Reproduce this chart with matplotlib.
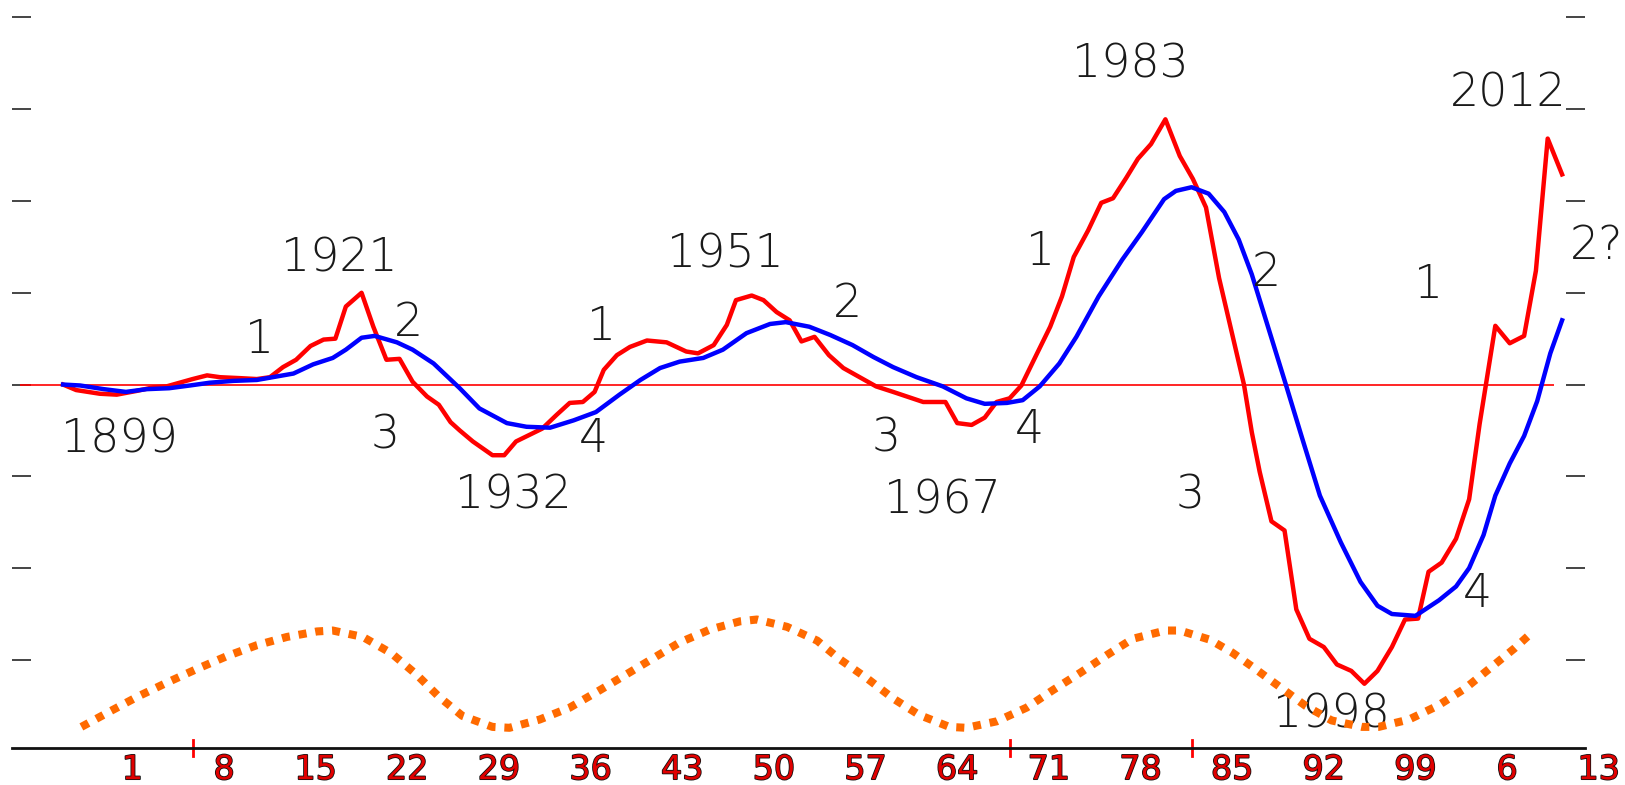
import matplotlib
matplotlib.use("Agg")
import matplotlib.pyplot as plt
import matplotlib.patheffects as pe
from matplotlib.transforms import blended_transform_factory

# red: raw series, blue: smoothed, orange: cycle guide
red_years = [1895.7, 1896.7, 1898.5, 1899.8, 1901.3, 1902.6, 1903.6, 1904.6, 1905.6, 1906.7,
             1907.7, 1909.2, 1910.5, 1911.5, 1912.5, 1913.5, 1914.6, 1915.6, 1916.5, 1917.3,
             1918.5, 1919.4, 1920.4, 1921.4, 1922.4, 1923.5, 1924.4, 1925.3, 1926.0, 1927.0,
             1928.5, 1929.4, 1930.3, 1932.3, 1933.4, 1934.4, 1935.4, 1936.3, 1937.0, 1938.0,
             1939.0, 1940.3, 1941.8, 1943.3, 1944.2, 1945.4, 1946.4, 1947.1, 1948.3, 1949.2,
             1950.2, 1951.2, 1952.1, 1953.1, 1954.2, 1955.3, 1956.3, 1957.8, 1959.1, 1961.4,
             1963.1, 1964.0, 1965.1, 1966.1, 1967.0, 1968.0, 1968.9, 1970.1, 1971.1, 1972.0,
             1972.9, 1974.0, 1975.0, 1975.9, 1976.9, 1977.8, 1978.8, 1979.9, 1981.0, 1982.0,
             1983.0, 1984.0, 1985.0, 1985.9, 1986.5, 1987.1, 1988.0, 1989.0, 1989.9, 1990.9,
             1992.0, 1993.0, 1994.1, 1995.1, 1996.1, 1997.2, 1998.2, 1999.2, 2000.0, 2001.0,
             2002.1, 2003.1, 2003.9, 2005.1, 2006.2, 2007.3, 2008.2, 2009.1, 2010.2]
red_values = [0.00, -0.06, -0.10, -0.11, -0.07, -0.03, -0.02, 0.02, 0.06, 0.10,
              0.08, 0.07, 0.06, 0.08, 0.19, 0.27, 0.42, 0.49, 0.50, 0.85,
              1.00, 0.63, 0.27, 0.28, 0.03, -0.13, -0.22, -0.41, -0.50, -0.62,
              -0.77, -0.77, -0.62, -0.48, -0.33, -0.20, -0.19, -0.08, 0.16, 0.32,
              0.41, 0.48, 0.46, 0.36, 0.34, 0.43, 0.65, 0.92, 0.97, 0.92,
              0.79, 0.70, 0.47, 0.52, 0.32, 0.18, 0.10, -0.02, -0.08, -0.19,
              -0.19, -0.42, -0.44, -0.36, -0.19, -0.15, -0.01, 0.34, 0.63, 0.96,
              1.39, 1.68, 1.98, 2.03, 2.25, 2.46, 2.62, 2.89, 2.49, 2.24,
              1.93, 1.16, 0.55, 0.00, -0.52, -0.95, -1.49, -1.59, -2.45, -2.77,
              -2.86, -3.05, -3.12, -3.26, -3.12, -2.86, -2.56, -2.55, -2.04, -1.94,
              -1.68, -1.25, -0.43, 0.64, 0.45, 0.53, 1.24, 2.68, 2.29]

blue_years = [1895.7, 1897.0, 1898.8, 1900.5, 1902.1, 1903.8, 1905.4, 1906.9, 1908.7, 1910.5,
              1911.7, 1913.3, 1914.8, 1916.3, 1917.3, 1918.5, 1919.5, 1921.2, 1922.4, 1924.0,
              1926.0, 1927.5, 1929.6, 1931.1, 1932.9, 1934.7, 1936.4, 1938.2, 1939.8, 1941.3,
              1942.8, 1944.6, 1946.1, 1947.9, 1949.7, 1950.9, 1952.7, 1954.3, 1956.0, 1957.6,
              1959.1, 1960.9, 1962.9, 1964.7, 1966.1, 1967.8, 1969.0, 1970.3, 1971.8, 1973.1,
              1974.8, 1976.6, 1978.1, 1979.8, 1980.7, 1981.9, 1983.2, 1984.4, 1985.5, 1986.5,
              1987.8, 1989.1, 1990.4, 1991.7, 1993.3, 1994.8, 1996.1, 1997.2, 1999.0, 2000.8,
              2002.1, 2003.1, 2004.2, 2005.1, 2006.2, 2007.3, 2008.3, 2009.3, 2010.2]
blue_values = [0.00, -0.01, -0.05, -0.08, -0.05, -0.04, -0.01, 0.02, 0.04, 0.05,
               0.08, 0.12, 0.22, 0.29, 0.38, 0.51, 0.53, 0.46, 0.38, 0.23,
               -0.04, -0.26, -0.42, -0.46, -0.47, -0.39, -0.30, -0.11, 0.05, 0.18,
               0.25, 0.29, 0.38, 0.56, 0.66, 0.68, 0.63, 0.54, 0.43, 0.30,
               0.19, 0.08, -0.02, -0.15, -0.21, -0.20, -0.17, -0.02, 0.23, 0.52,
               0.96, 1.36, 1.66, 2.02, 2.11, 2.15, 2.08, 1.88, 1.58, 1.20,
               0.60, 0.00, -0.61, -1.21, -1.72, -2.15, -2.41, -2.50, -2.52, -2.35,
               -2.20, -2.00, -1.64, -1.21, -0.86, -0.56, -0.18, 0.34, 0.70]

cycle_years = [1897.1, 1899.3, 1901.4, 1903.6, 1905.9, 1908.2, 1910.5, 1912.8, 1915.1, 1916.3,
               1918.6, 1920.8, 1922.7, 1924.4, 1926.2, 1928.5, 1929.8, 1932.1, 1934.4, 1936.7,
               1938.7, 1940.8, 1942.8, 1945.1, 1947.4, 1948.7, 1951.0, 1953.3, 1955.0, 1957.1,
               1959.1, 1961.1, 1963.4, 1964.7, 1967.0, 1969.3, 1971.3, 1973.4, 1975.4, 1977.4,
               1979.9, 1981.0, 1983.3, 1985.0, 1986.5, 1988.5, 1990.6, 1992.6, 1994.9, 1996.2,
               1998.5, 2000.7, 2002.8, 2004.7, 2006.6, 2007.6]
cycle_values = [-3.73, -3.56, -3.40, -3.25, -3.10, -2.96, -2.84, -2.75, -2.69, -2.68,
                -2.75, -2.93, -3.16, -3.40, -3.61, -3.73, -3.74, -3.65, -3.52, -3.33,
                -3.16, -2.98, -2.81, -2.67, -2.58, -2.56, -2.64, -2.79, -2.99, -3.20,
                -3.42, -3.60, -3.73, -3.74, -3.67, -3.52, -3.33, -3.14, -2.95, -2.77,
                -2.68, -2.68, -2.78, -2.92, -3.07, -3.28, -3.50, -3.66, -3.73, -3.73,
                -3.65, -3.50, -3.31, -3.09, -2.87, -2.74]

tick_years = [1901, 1908, 1915, 1922, 1929, 1936, 1943, 1950, 1957, 1964,
              1971, 1978, 1985, 1992, 1999, 2006, 2013]
tick_labels = ["1", "8", "15", "22", "29", "36", "43", "50", "57", "64",
               "71", "78", "85", "92", "99", "6", "13"]
marker_years = [1905.6, 1968.0, 1981.9]

turn_labels = ["1899", "1921", "1932", "1951", "1967", "1983", "1998", "2012"]
turn_x = [1900.0, 1916.8, 1930.1, 1946.3, 1962.9, 1977.2, 1992.6, 2006.1]
turn_y = [-0.60, 1.37, -1.21, 1.42, -1.26, 3.49, -3.60, 3.17]

wave_labels = ["1", "2", "3", "4", "1", "2", "3", "4", "1", "2", "3", "1", "4", "2?"]
wave_x = [1910.7, 1922.1, 1920.3, 1936.2, 1936.8, 1955.6, 1958.6, 1969.5,
          1970.4, 1987.6, 1981.8, 2000.0, 2003.7, 2012.8]
wave_y = [0.49, 0.67, -0.55, -0.59, 0.63, 0.88, -0.59, -0.49,
          1.44, 1.22, -1.21, 1.08, -2.28, 1.51]


def draw_chart():
    fig = plt.figure(figsize=(16.25, 7.85), dpi=100)
    ax = fig.add_axes([12 / 1625, 37 / 785, 1573 / 1625, 748 / 785])
    ax.set_xlim(1891.8, 2011.95)
    ax.set_ylim(-3.96, 4.19)

    ax.hlines(0, 1892.4, 2009.6, color="#ff0000", lw=1.2, zorder=2)
    ax.plot(red_years, red_values, color="#ff0000", lw=3.2, zorder=4,
            solid_joinstyle="round")
    ax.plot(blue_years, blue_values, color="#0000ff", lw=3.2, zorder=5,
            solid_joinstyle="round")

    text_font = ["DejaVu Sans"]
    for label, x, y in zip(turn_labels, turn_x, turn_y):
        ax.text(x, y, label, ha="center", va="center", fontsize=33,
                family=text_font, fontweight="light", color="#1a1a1a", zorder=6)
    for label, x, y in zip(wave_labels, wave_x, wave_y):
        ax.text(x, y, label, ha="center", va="center", fontsize=33,
                family=text_font, fontweight="light", color="#1a1a1a", zorder=6)

    # the cycle guide sits on top of the labels, as in the original
    ax.plot(cycle_years, cycle_values, color="#ff6a00", lw=5.8,
            linestyle=(0, (1, 1.1)), dash_capstyle="butt", zorder=7)

    # y ticks as short dashes on both edges, no labels
    ax.set_yticks(range(-3, 5))
    ax.tick_params(axis="y", direction="in", length=14, width=1.4, color="#444444",
                   left=True, right=True, labelleft=False, labelright=False)
    ax.set_xticks([])
    for side in ["left", "right", "top"]:
        ax.spines[side].set_visible(False)
    ax.spines["bottom"].set_color("#111111")
    ax.spines["bottom"].set_linewidth(2)

    trans = blended_transform_factory(ax.transData, ax.transAxes)
    for year, label in zip(tick_years, tick_labels):
        ax.text(year, -0.029, label, transform=trans, ha="center", va="center",
                fontsize=24, family=["DejaVu Sans"],
                color="#e00000", clip_on=False,
                path_effects=[pe.withStroke(linewidth=1.2, foreground="#111111")])
    for year in marker_years:
        ax.axvline(year, ymin=-0.011, ymax=0.011, color="#ff0000", lw=2, clip_on=False)

    fig.savefig("out.png", dpi=100)


if __name__ == "__main__":
    draw_chart()
